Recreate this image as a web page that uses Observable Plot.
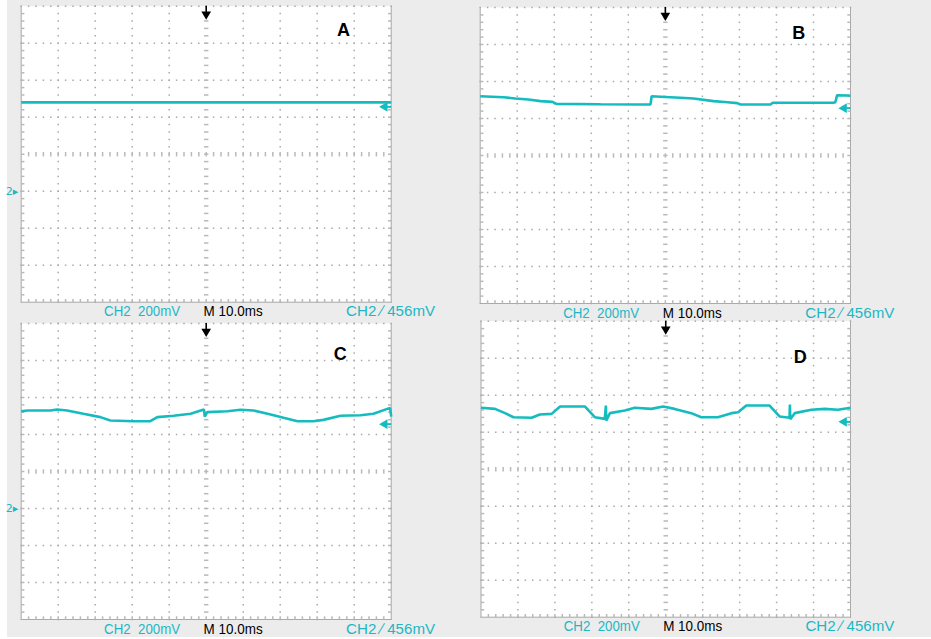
<!DOCTYPE html>
<html><head><meta charset="utf-8">
<script src="https://cdn.jsdelivr.net/npm/d3@7"></script>
<script src="https://cdn.jsdelivr.net/npm/@observablehq/plot@0.6"></script>
<style>
html,body{margin:0;padding:0;background:#fff;}
#wrap{position:relative;width:931px;height:639px;overflow:hidden;background:#ececec;}
.panel{position:absolute;}
.panel svg{display:block;background:transparent;}
.white{position:absolute;background:#fff;}
</style></head><body><div id="wrap"><div class="white" style="left:0;top:0;width:7px;height:639px"></div><div class="white" style="left:0;top:637px;width:931px;height:2px"></div></div>
<script>
// ---------- data ----------
const panelNames = ["A", "B", "C", "D"];
const timeDivs = [-50, -40, -30, -20, -10, 0, 10, 20, 30, 40, 50];          // ms, 10 ms/div
const voltDivs = [-600, -400, -200, 0, 200, 400, 600, 800, 1000];           // mV, 200 mV/div
const scaleLabel = "CH2  200mV";
const timeLabel = "M 10.0ms";
const trigLabel = "CH2 \u2215 456mV";
const groundLabel = "2\u25B8";
const triggerLevel = 456;   // mV
const groundLevel = 0;      // mV
const triggerTime = 0;      // ms

const aTime = [-50, 50];
const aMv   = [480, 480];

const bTime = [-50, -43.7, -40.5, -37, -33.7, -30.5, -29.4, -17.5, -6.7, -4.0, -3.7, 0, 4.1, 7.6, 13, 16.8, 19.4, 20.3, 28.4, 29, 45.4, 45.9, 46.4, 49.5, 50];
const bMv   = [520, 515, 508, 503, 494, 490, 479, 477, 476, 476, 520, 516, 512, 508, 494, 488, 483, 476, 476, 485, 485, 488, 526, 524, 522];

const cTime = [-50, -48.3, -42.1, -40.3, -37.6, -33.2, -28.6, -25.9, -19.6, -15.1, -13.2, -8.8, -4.2, -0.6, -0.4, 0.3, 5.7, 9.3, 12.8, 16.6, 20.9, 24.7, 29, 31.7, 36.3, 41.7, 45.2, 49.7, 50];
const cMv   = [526, 530, 530, 535, 530, 512, 494, 476, 472, 472, 494, 501, 512, 535, 497, 521, 526, 534, 530, 512, 490, 472, 472, 479, 501, 504, 512, 544, 497];

const dTime = [-50, -46.2, -43.5, -41.2, -36.3, -34.1, -30.9, -28.6, -21.9, -19.2, -16.5, -16.2, -16.1, -15.1, -11.1, -8.4, -3.9, -0.7, 2.4, 6.9, 9.6, 14.1, 17.8, 19.6, 21.8, 28.1, 30.8, 33.5, 33.6, 33.7, 34.9, 39.4, 43.0, 46.6, 50];
const dMv   = [532, 526, 503, 481, 478, 496, 499, 539, 539, 481, 472, 544, 463, 503, 517, 532, 526, 539, 526, 503, 481, 481, 503, 508, 544, 544, 485, 478, 550, 470, 503, 521, 526, 521, 532];

const traces = {
  A: aTime.map((t, i) => ({t, v: aMv[i]})),
  B: bTime.map((t, i) => ({t, v: bMv[i]})),
  C: cTime.map((t, i) => ({t, v: cMv[i]})),
  D: dTime.map((t, i) => ({t, v: dMv[i]}))
};

// ---------- layout (pixels) ----------
const layout = {
  A: {left: 7,   top: 0,   width: 458, height: 317, ml: 13.7, mr: 74.3, mt: 5.7, mb: 15.3, lx: 37.1, ly: 868, ground: true},
  B: {left: 465, top: 0,   width: 466, height: 317, ml: 14.7, mr: 81,   mt: 7,   mb: 14,   lx: 36.0, ly: 859, ground: false},
  C: {left: 7,   top: 317, width: 458, height: 320, ml: 13.7, mr: 74.3, mt: 6,   mb: 18,   lx: 36.2, ly: 832, ground: true},
  D: {left: 465, top: 317, width: 466, height: 320, ml: 15.5, mr: 81,   mt: 3.7, mb: 20.3, lx: 36.4, ly: 804, ground: false}
};
const labelWidths = {[scaleLabel]: 76, [timeLabel]: 59, [trigLabel]: 89};

const cyan = "#14bcbf";
const labelCyan = "#1db7c4";
const gridColor = "#a9a9a9";
const tickColor = "#b9b9b9";

// graticule helpers derived from the division arrays
const tMin = timeDivs[0], tMax = timeDivs[timeDivs.length - 1];
const vMin = voltDivs[0], vMax = voltDivs[voltDivs.length - 1];
const tMinor = (timeDivs[1] - timeDivs[0]) / 5, vMinor = (voltDivs[1] - voltDivs[0]) / 5;
const minorX = d3.range(tMin, tMax + 1e-6, tMinor);
const minorY = d3.range(vMin, vMax + 1e-6, vMinor);
const tCenter = timeDivs[(timeDivs.length - 1) / 2];
const vCenter = voltDivs[(voltDivs.length - 1) / 2];
const innerX = timeDivs.filter(t => t !== tMin && t !== tMax && t !== tCenter);
const innerY = voltDivs.filter(v => v !== vMin && v !== vCenter);   // includes top edge
const vGridDots = innerX.flatMap(t => minorY.map(v => ({t, v})));
const hGridDots = innerY.flatMap(v => minorX.map(t => ({t, v})));
const innerMinorX = minorX.filter(t => t !== tMin && t !== tMax);
const innerMinorY = minorY.filter(v => v !== vMin && v !== vMax);

const hDash = {draw(ctx, size) { const h = Math.sqrt(size / Math.PI); ctx.moveTo(-h, 0); ctx.lineTo(h, 0); }};
const vDash = {draw(ctx, size) { const h = Math.sqrt(size / Math.PI); ctx.moveTo(0, -h); ctx.lineTo(0, h); }};
const sq = {draw(ctx, size) { const h = Math.sqrt(size / Math.PI); ctx.rect(-h, -h, 2 * h, 2 * h); }};

const textFont = "'Liberation Sans', Arial, sans-serif";

function makePanel(name) {
  const L = layout[name];
  const marks = [
    Plot.frame({fill: "white"}),
    Plot.frame({anchor: "left", stroke: gridColor}),
    Plot.frame({anchor: "right", stroke: gridColor}),
    Plot.frame({anchor: "bottom", stroke: gridColor}),
    // dotted grid
    Plot.dot(vGridDots, {x: "t", y: "v", symbol: sq, r: 0.75, fill: gridColor, stroke: null}),
    Plot.dot(hGridDots, {x: "t", y: "v", symbol: sq, r: 0.75, fill: gridColor, stroke: null}),
    // centre cross ticks
    Plot.dot(innerMinorX, {x: d => d, y: () => vCenter, symbol: vDash, r: 2.2, stroke: tickColor}),
    Plot.dot(innerMinorY, {x: () => tCenter, y: d => d, symbol: hDash, r: 2.2, stroke: tickColor}),
    // edge ticks
    Plot.dot(innerMinorY, {x: () => tMin, y: d => d, symbol: hDash, r: 1.6, dx: 1.6, stroke: tickColor}),
    Plot.dot(innerMinorY, {x: () => tMax, y: d => d, symbol: hDash, r: 1.6, dx: -1.6, stroke: tickColor}),
    Plot.dot(innerMinorX, {x: d => d, y: () => vMin, symbol: vDash, r: 1.6, dy: -1.6, stroke: tickColor}),
    // trace
    Plot.line(traces[name], {x: "t", y: "v", stroke: cyan, strokeWidth: 2.6, strokeLinejoin: "miter", strokeLinecap: "butt"}),
    // trigger position marker (top): stem + downward head
    Plot.dot([triggerTime], {x: d => d, y: () => vMax, symbol: vDash, r: 4.5, dy: 4, stroke: "black", strokeWidth: 1.6}),
    Plot.dot([triggerTime], {x: d => d, y: () => vMax, symbol: "triangle", rotate: 180, r: 3.6, dy: 8, fill: "black", stroke: null}),
    // trigger level marker (right): leftward head + stem
    Plot.dot([triggerLevel], {x: () => tMax, y: d => d, symbol: hDash, r: 3.5, dx: -3.5, stroke: cyan, strokeWidth: 2}),
    Plot.dot([triggerLevel], {x: () => tMax, y: d => d, symbol: "triangle", rotate: -90, r: 3.6, dx: -6.5, fill: cyan, stroke: null}),
    // panel letter
    Plot.text([name], {x: () => L.lx, y: () => L.ly, text: d => d, fontSize: 18, fontWeight: "bold", fill: "black", fontFamily: "'Liberation Sans', Arial, sans-serif"}),
    // status row
    Plot.text([scaleLabel], {x: () => -27.6, y: () => vMin, text: d => d, textAnchor: "start", dy: 9.3, fontSize: 15.5, fill: labelCyan, fontFamily: textFont}),
    Plot.text([timeLabel], {x: () => -0.7, y: () => vMin, text: d => d, textAnchor: "start", dy: 9.3, fontSize: 15.5, fill: "black", fontFamily: textFont}),
    Plot.text([trigLabel], {x: () => 37.8, y: () => vMin, text: d => d, textAnchor: "start", dy: 9.3, fontSize: 15.5, fill: labelCyan, fontFamily: textFont})
  ];
  if (L.ground) {
    marks.push(Plot.text([groundLevel], {x: () => tMin, y: d => d, text: () => groundLabel, textAnchor: "end", dx: -3, fontSize: 11, fill: labelCyan, fontFamily: "DejaVu Sans"}));
  }
  const svg = Plot.plot({
    width: L.width,
    height: L.height,
    marginLeft: L.ml,
    marginRight: L.mr,
    marginTop: L.mt,
    marginBottom: L.mb,
    x: {domain: [tMin, tMax], axis: null},
    y: {domain: [vMin, vMax], axis: null},
    style: {background: "transparent", overflow: "visible"},
    marks
  });
  // condense the status-row texts to the oscilloscope's narrow font widths
  svg.querySelectorAll("text").forEach(el => {
    const w = labelWidths[el.textContent];
    if (w) { el.setAttribute("textLength", w); el.setAttribute("lengthAdjust", "spacingAndGlyphs"); }
  });
  return svg;
}

const wrap = document.getElementById("wrap");
for (const name of panelNames) {
  const L = layout[name];
  const div = document.createElement("div");
  div.className = "panel";
  div.style.left = L.left + "px";
  div.style.top = L.top + "px";
  div.appendChild(makePanel(name));
  wrap.appendChild(div);
}
</script>
</body></html>
